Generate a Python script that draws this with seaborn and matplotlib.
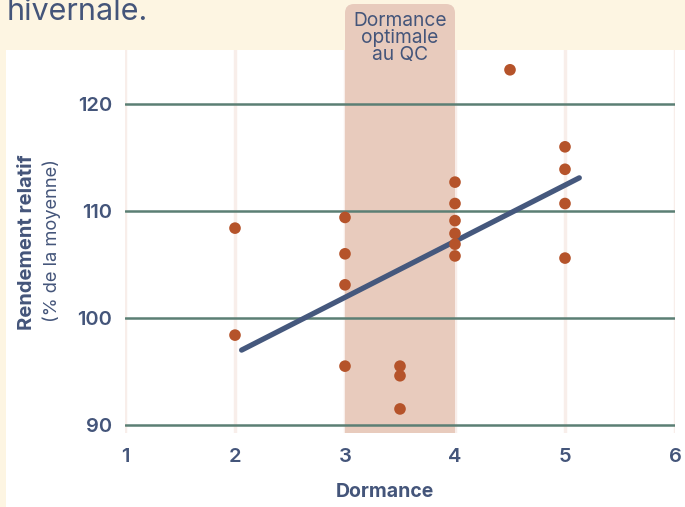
import matplotlib
matplotlib.use("Agg")
import matplotlib.pyplot as plt
from matplotlib.patches import FancyBboxPatch, Rectangle
from matplotlib.transforms import IdentityTransform, blended_transform_factory
import seaborn as sns

# values
dormance = [2, 2, 3, 3, 3, 3, 3.5, 3.5, 3.5, 4, 4, 4, 4, 4, 4, 4.5, 5, 5, 5, 5]
rendement = [108.4, 98.4, 109.4, 106.0, 103.1, 95.5, 95.5, 94.6, 91.5,
             112.7, 110.7, 109.1, 107.9, 106.9, 105.8, 123.2, 116.0, 113.9, 110.7, 105.6]
trend_x = [2.06, 5.13]
trend_y = [97.0, 113.1]
band = [3.0, 4.0]
band_label = "Dormance\noptimale\nau QC"
x_ticks = [1, 2, 3, 4, 5, 6]
y_ticks = [90, 100, 110, 120]

TEXT = "#44557a"
BEIGE = "#fdf5e2"
BAND = "#e8cbbd"
DOT = "#b5532a"
LINE = "#45587d"
HGRID = "#5b7f74"
VGRID = "#f8eeea"

sns.set_theme(style="white")
plt.rcParams["font.family"] = ["Inter", "DejaVu Sans"]

W, H = 685, 507
fig = plt.figure(figsize=(W / 100, H / 100), dpi=100, facecolor=BEIGE)
fig.add_artist(Rectangle((6 / W, 0), 1, (H - 50) / H, transform=fig.transFigure,
                         facecolor="white", edgecolor="none", zorder=-1))
ax = fig.add_axes([125 / W, (H - 433) / H, 550 / W, 383 / H])
ax.set_facecolor("white")
ax.set_xlim(1, 6)
ax.set_ylim(89.25, 125.05)
for s in ax.spines.values():
    s.set_visible(False)

ax.set_axisbelow(True)
ax.xaxis.grid(True, color=VGRID, lw=2.5)
ax.yaxis.grid(False)
for yt in y_ticks:
    ax.axhline(yt, color=HGRID, lw=1.8, zorder=1)

# optimal dormancy band, rounded on top above the plot
ax.axvspan(band[0], band[1], color=BAND, lw=0, zorder=0.7)
x0 = ax.transData.transform((band[0], 100))[0]
x1 = ax.transData.transform((band[1], 100))[0]
yb = (H - 433) + 150
top = H - 4
ax.add_patch(FancyBboxPatch((x0, yb), x1 - x0, top - yb,
                            boxstyle="round,pad=0,rounding_size=9",
                            transform=IdentityTransform(), facecolor=BAND,
                            edgecolor="none", clip_on=False, zorder=0.7))
ax.text(sum(band) / 2, 1 - 38 / H, band_label,
        transform=blended_transform_factory(ax.transData, fig.transFigure),
        ha="center", va="center", fontsize=13.8, color=TEXT, linespacing=0.95, zorder=3)

sns.lineplot(x=trend_x, y=trend_y, ax=ax, color=LINE, lw=3.8,
             solid_capstyle="round", zorder=2)
sns.scatterplot(x=dormance, y=rendement, ax=ax, color=DOT, s=70,
                edgecolor="none", zorder=3)

ax.set_xticks(x_ticks)
ax.set_yticks(y_ticks)
ax.set_xticklabels([str(t) for t in x_ticks])
ax.set_yticklabels([str(t) for t in y_ticks])
ax.tick_params(axis="both", length=0, labelsize=14.5, labelcolor=TEXT)
ax.tick_params(axis="y", pad=9)
ax.tick_params(axis="x", pad=11)
for lab in ax.get_xticklabels() + ax.get_yticklabels():
    lab.set_fontweight("semibold")
ax.set_xlabel("")
ax.set_ylabel("")

fig.text(385 / W, 1 - 492 / H, "Dormance", ha="center", va="center",
         fontsize=14, fontweight="bold", color=TEXT)
fig.text(27 / W, 1 - 242 / H, "Rendement relatif", rotation=90, ha="center",
         va="center", fontsize=14.5, fontweight="bold", color=TEXT)
fig.text(52 / W, 1 - 240 / H, "(% de la moyenne)", rotation=90, ha="center",
         va="center", fontsize=13.2, color=TEXT)
fig.text(7 / W, 1 - 20 / H, "hivernale.", ha="left", va="baseline",
         fontsize=22, color=TEXT)

fig.savefig("out.png", dpi=100, facecolor=BEIGE)
